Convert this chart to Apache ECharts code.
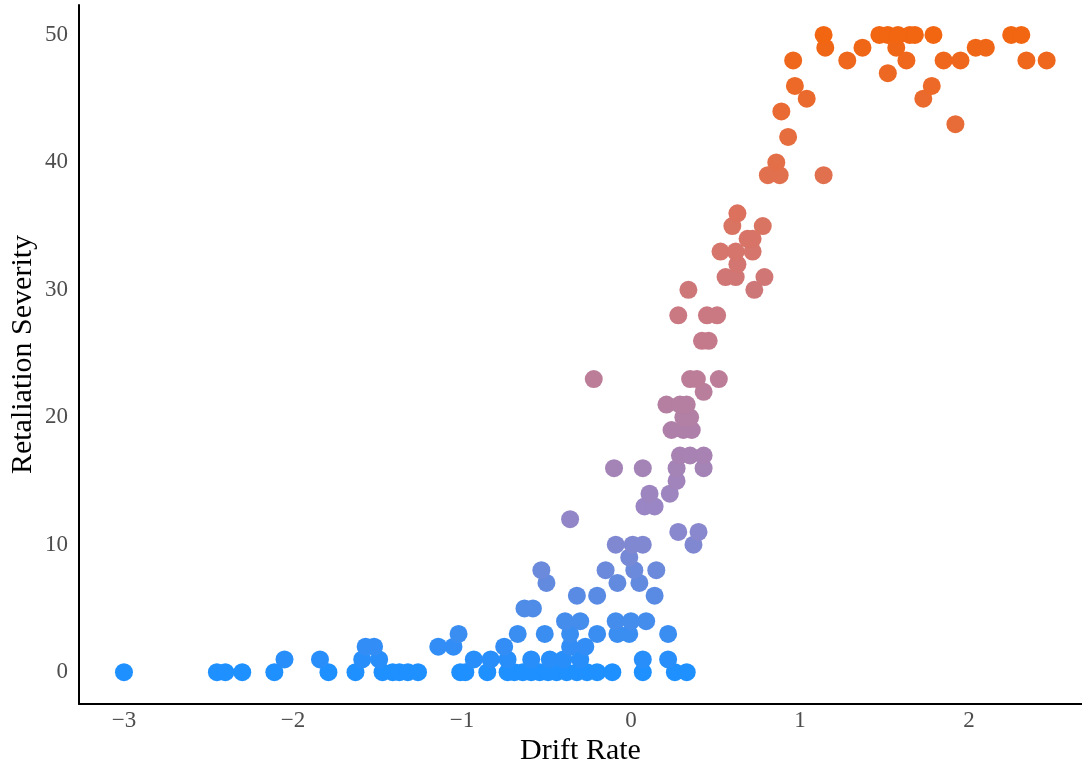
<!DOCTYPE html>
<html>
<head>
<meta charset="utf-8">
<title>Drift Rate vs Retaliation Severity</title>
<script src="https://cdn.jsdelivr.net/npm/echarts@6/dist/echarts.min.js"></script>
<style>
  html, body { margin: 0; padding: 0; background: #fff; }
  #chart { width: 1082px; height: 765px; }
</style>
</head>
<body>
<div id="chart"></div>
<script>
  // values, one row per severity level
  var driftRate = [
    -3.00, -2.45, -2.40, -2.30, -2.11, -1.79, -1.63, -1.47, -1.41, -1.37, -1.32, -1.26,
    -1.01, -0.98, -0.85, -0.73, -0.69, -0.64, -0.59, -0.54, -0.49, -0.44, -0.38, -0.32,
    -0.26, -0.20, -0.11, 0.07, 0.26, 0.33,
    -2.05, -1.84, -1.59, -1.49, -0.93, -0.83, -0.73, -0.59, -0.48, -0.40, -0.30, 0.07, 0.22,
    -1.57, -1.52, -1.14, -1.05, -0.75, -0.36, -0.27,
    -1.02, -0.67, -0.51, -0.36, -0.20, -0.08, -0.01, 0.22,
    -0.39, -0.30, -0.09, 0.00, 0.09,
    -0.63, -0.58,
    -0.32, -0.20, 0.14,
    -0.50, -0.08, 0.05,
    -0.53, -0.15, 0.02, 0.15,
    -0.01,
    -0.09, 0.01, 0.07, 0.37,
    0.28, 0.40,
    -0.36,
    0.08, 0.14,
    0.11, 0.23,
    0.27,
    -0.10, 0.07, 0.27, 0.43,
    0.29, 0.35, 0.43,
    0.24, 0.31, 0.36,
    0.31, 0.35,
    0.21, 0.29, 0.33,
    0.43,
    -0.22, 0.35, 0.39, 0.52,
    0.42, 0.46,
    0.28, 0.45, 0.51,
    0.34, 0.73,
    0.56, 0.62, 0.79,
    0.63,
    0.53, 0.62, 0.72,
    0.69, 0.72,
    0.60, 0.78,
    0.63,
    0.81, 0.88, 1.14,
    0.86,
    0.93,
    1.92,
    0.89,
    1.04, 1.73,
    0.97, 1.78,
    1.52,
    0.96, 1.28, 1.63, 1.85, 1.95, 2.34, 2.46,
    1.15, 1.37, 1.57, 2.04, 2.10,
    1.14, 1.47, 1.52, 1.58, 1.65, 1.68, 1.79, 2.25, 2.31
  ];
  var severity = [
    0, 0, 0, 0, 0, 0, 0, 0, 0, 0, 0, 0,
    0, 0, 0, 0, 0, 0, 0, 0, 0, 0, 0, 0,
    0, 0, 0, 0, 0, 0,
    1, 1, 1, 1, 1, 1, 1, 1, 1, 1, 1, 1, 1,
    2, 2, 2, 2, 2, 2, 2,
    3, 3, 3, 3, 3, 3, 3, 3,
    4, 4, 4, 4, 4,
    5, 5,
    6, 6, 6,
    7, 7, 7,
    8, 8, 8, 8,
    9,
    10, 10, 10, 10,
    11, 11,
    12,
    13, 13,
    14, 14,
    15,
    16, 16, 16, 16,
    17, 17, 17,
    19, 19, 19,
    20, 20,
    21, 21, 21,
    22,
    23, 23, 23, 23,
    26, 26,
    28, 28, 28,
    30, 30,
    31, 31, 31,
    32,
    33, 33, 33,
    34, 34,
    35, 35,
    36,
    39, 39, 39,
    40,
    42,
    43,
    44,
    45, 45,
    46, 46,
    47,
    48, 48, 48, 48, 48, 48, 48,
    49, 49, 49, 49, 49,
    50, 50, 50, 50, 50, 50, 50, 50, 50
  ];
  var xTicks = [-3, -2, -1, 0, 1, 2];
  var yTicks = [0, 10, 20, 30, 40, 50];
  var colorStops = ['#1E90FF', '#9886C6', '#C37B8F', '#DF7157', '#F26511'];

  var points = [];
  for (var i = 0; i < driftRate.length; i++) {
    points.push([driftRate[i], severity[i]]);
  }

  var chart = echarts.init(document.getElementById('chart'));
  var font = 'Liberation Serif';

  chart.setOption({
    animation: false,
    grid: { left: 79, right: 0, top: 5, bottom: 61, outerBoundsMode: 'none', containLabel: false },
    visualMap: {
      type: 'continuous',
      show: false,
      dimension: 1,
      min: 0,
      max: 50,
      inRange: { color: colorStops }
    },
    xAxis: {
      type: 'value',
      min: -3.266,
      max: 2.669,
      name: 'Drift Rate',
      nameLocation: 'middle',
      nameGap: 32,
      nameMoveOverlap: false,
      nameTextStyle: { fontFamily: font, fontSize: 30, color: '#000' },
      axisLine: { show: true, onZero: false, lineStyle: { color: '#000', width: 2 } },
      axisTick: { show: false },
      splitLine: { show: false },
      axisLabel: {
        customValues: xTicks,
        fontFamily: font,
        fontSize: 23,
        color: '#4d4d4d',
        margin: 5,
        formatter: function (v) { return String(v).replace('-', '\u2212'); }
      }
    },
    yAxis: {
      type: 'value',
      min: -2.5,
      max: 52.35,
      name: 'Retaliation Severity',
      nameLocation: 'middle',
      nameGap: 41,
      nameMoveOverlap: false,
      nameTextStyle: { fontFamily: font, fontSize: 30, color: '#000' },
      axisLine: { show: true, onZero: false, lineStyle: { color: '#000', width: 2 } },
      axisTick: { show: false },
      splitLine: { show: false },
      axisLabel: {
        customValues: yTicks,
        fontFamily: font,
        fontSize: 23,
        color: '#4d4d4d',
        margin: 11
      }
    },
    series: [{
      type: 'scatter',
      symbol: 'circle',
      symbolSize: 18,
      itemStyle: { opacity: 1 },
      data: points
    }]
  });
</script>
</body>
</html>
